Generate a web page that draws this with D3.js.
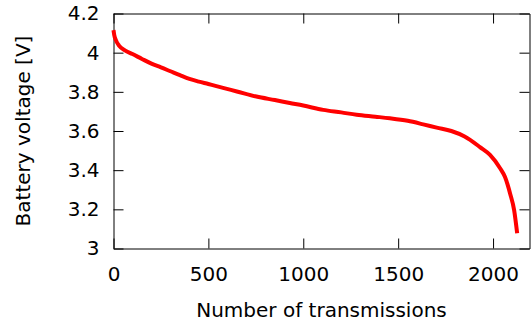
<!DOCTYPE html>
<html>
<head>
<meta charset="utf-8">
<script src="https://cdn.jsdelivr.net/npm/d3@7"></script>
<style>
  body { margin: 0; background: #fff; }
  text { font-family: "DejaVu Sans", sans-serif; }
</style>
</head>
<body>
<div id="chart"></div>
<script>
var transmissions = [0, 4, 12, 30, 60, 100, 150, 200, 250, 300, 350, 400, 450, 500, 577, 650,
  753, 850, 929, 1000, 1105, 1200, 1281, 1380, 1456, 1550, 1632, 1703, 1780, 1850, 1931,
  1984, 2037, 2063, 2090, 2111, 2127];
var voltage = [4.115, 4.09, 4.065, 4.035, 4.012, 3.993, 3.968, 3.944, 3.925, 3.905, 3.885,
  3.866, 3.852, 3.84, 3.82, 3.802, 3.776, 3.758, 3.743, 3.73, 3.708, 3.695, 3.683, 3.673,
  3.665, 3.652, 3.634, 3.617, 3.6, 3.572, 3.518, 3.478, 3.41, 3.365, 3.28, 3.196, 3.078];

var xTicks = [0, 500, 1000, 1500, 2000];
var yTicks = [3, 3.2, 3.4, 3.6, 3.8, 4, 4.2];

var svgWidth = 531;
var svgHeight = 323;
var margin = { top: 13.5, right: 1.5, bottom: 74.5, left: 113.5 };
var width = svgWidth - margin.left - margin.right;
var height = svgHeight - margin.top - margin.bottom;

var svg = d3.select("#chart").append("svg")
  .attr("width", svgWidth)
  .attr("height", svgHeight);

var chart = svg.append("g")
  .attr("transform", `translate(${margin.left}, ${margin.top})`);

var x = d3.scaleLinear().domain([0, 2192]).range([0, width]);
var y = d3.scaleLinear().domain([3, 4.2]).range([height, 0]);

var fmtY = function(d) { return String(+d.toFixed(1)); };

var bottomAxis = d3.axisBottom(x).tickValues(xTicks).tickSize(-10).tickSizeOuter(0).tickPadding(18).tickFormat(d3.format("d"));
var leftAxis = d3.axisLeft(y).tickValues(yTicks).tickSize(-10).tickSizeOuter(0).tickPadding(14).tickFormat(fmtY);
var topAxis = d3.axisTop(x).tickValues(xTicks).tickSize(-10).tickSizeOuter(0).tickFormat("");
var rightAxis = d3.axisRight(y).tickValues(yTicks).tickSize(-10).tickSizeOuter(0).tickFormat("");

chart.append("g").attr("class", "axis").attr("transform", `translate(0, ${height})`).call(bottomAxis);
chart.append("g").attr("class", "axis").call(leftAxis);
chart.append("g").attr("class", "axis").call(topAxis);
chart.append("g").attr("class", "axis").attr("transform", `translate(${width}, 0)`).call(rightAxis);

chart.selectAll(".axis path, .axis line").attr("stroke", "#000").attr("stroke-width", 1);
chart.selectAll(".axis text")
  .attr("font-family", "DejaVu Sans")
  .attr("font-size", "20")
  .attr("fill", "#000");

var points = transmissions.map(function(n, i) { return { n: n, v: voltage[i] }; });

var line = d3.line()
  .x(d => x(d.n))
  .y(d => y(d.v))
  .curve(d3.curveMonotoneX);

chart.append("path")
  .datum(points)
  .attr("d", line)
  .attr("fill", "none")
  .attr("stroke", "#ff0000")
  .attr("stroke-width", 4)
  .attr("stroke-linejoin", "round");

svg.append("text")
  .attr("transform", `translate(30, ${margin.top + height / 2}) rotate(-90)`)
  .attr("text-anchor", "middle")
  .attr("font-size", "20")
  .text("Battery voltage [V]");

svg.append("text")
  .attr("x", margin.left + width / 2)
  .attr("y", 317)
  .attr("text-anchor", "middle")
  .attr("font-size", "20")
  .text("Number of transmissions");
</script>
</body>
</html>
